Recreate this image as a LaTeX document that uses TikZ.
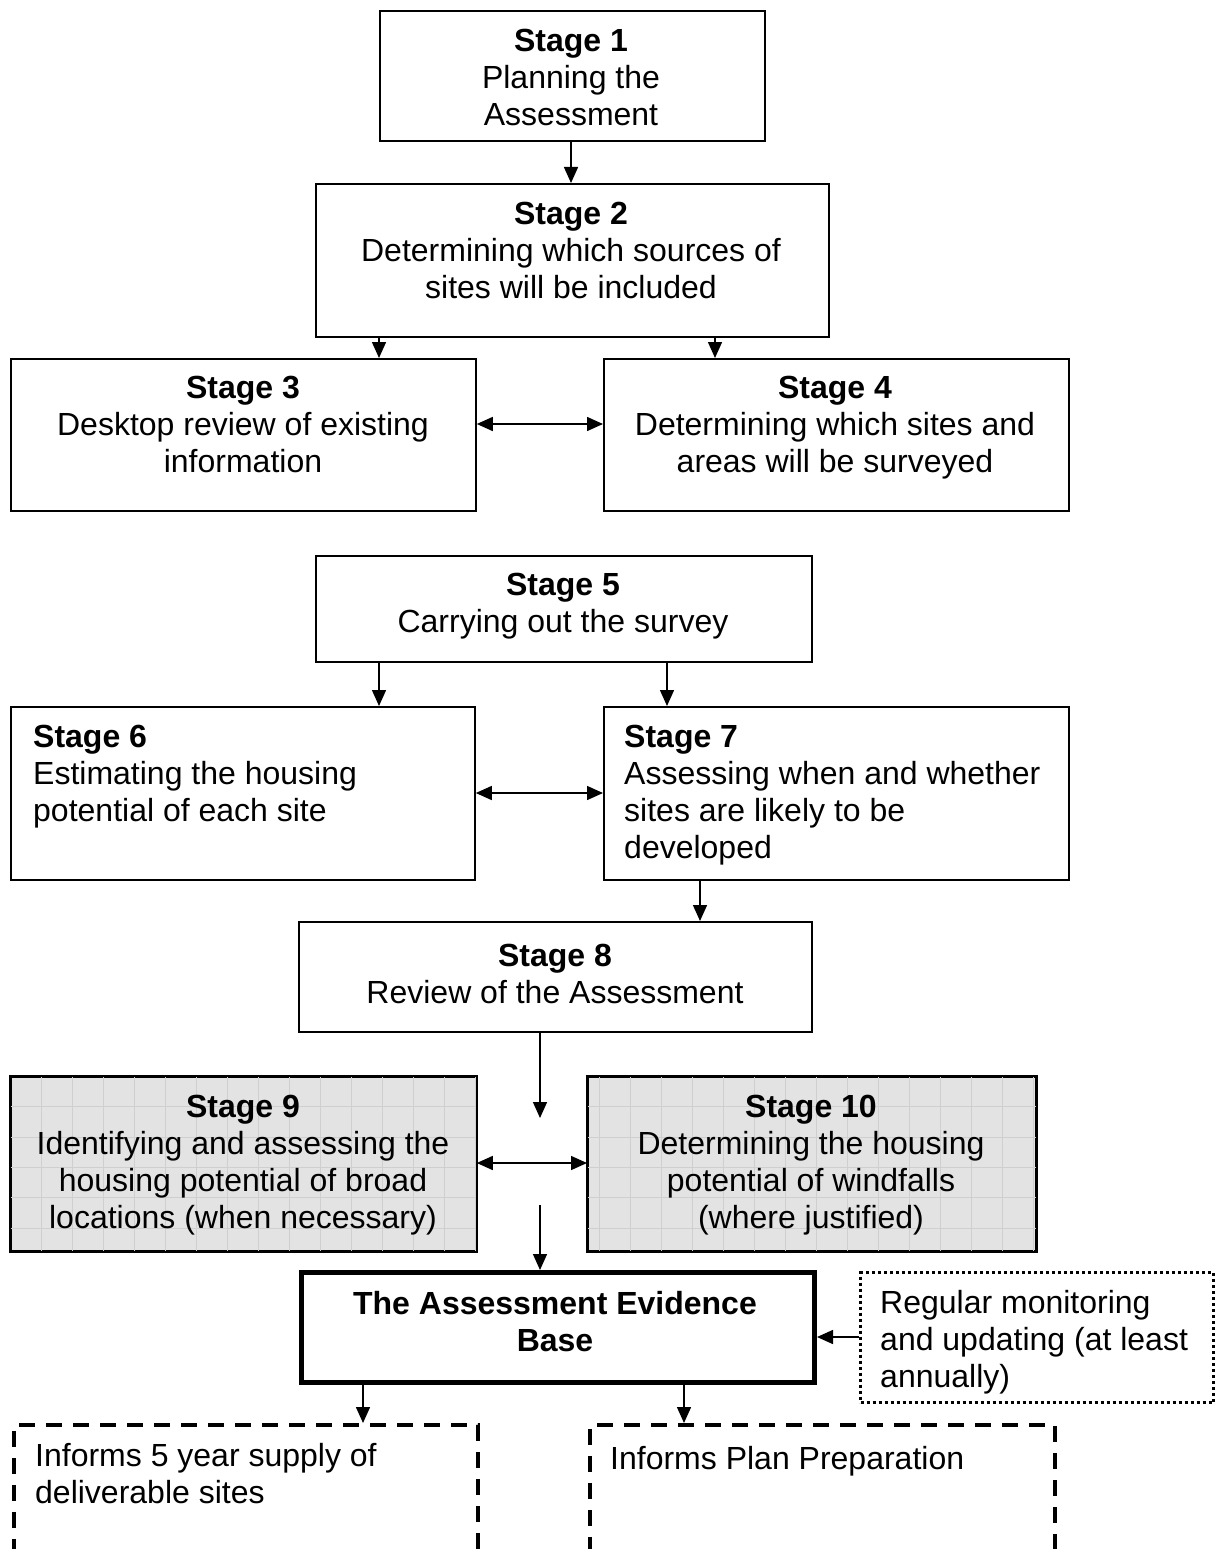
\documentclass[tikz,border=0pt]{standalone}
\usepackage{fontspec}
\setmainfont{Liberation Sans}
\usetikzlibrary{arrows.meta}
\tikzset{
  box/.style={draw, line width=1.8pt, inner sep=0pt, anchor=north west},
  greybox/.style={box, fill=black!11},
  thickbox/.style={box, line width=5pt},
  dottedbox/.style={box, line width=3pt, dash pattern=on 3pt off 3pt},
  dashedbox/.style={box, line width=3.5pt, dash pattern=on 16pt off 11pt},
  txt/.style={inner sep=0pt, align=center, font=\fontsize{32}{37}\selectfont,
    execute at begin node=\strut, execute at end node=\strut},
  ltxt/.style={txt, align=left, anchor=west},
  gridline/.style={draw=black!19, line width=0.8pt},
  tip/.tip={Triangle[length=16pt,width=14pt]},
  arr/.style={line width=1.5pt, -tip},
  darr/.style={line width=1.5pt, tip-tip},
}
\begin{document}
\begin{tikzpicture}[x=1pt,y=-1pt]
\useasboundingbox (0,0) rectangle (1218,1549);
\clip (0,0) rectangle (1218,1549);
\fill[white] (0,0) rectangle (1218,1549);

% x and y positions for connectors
\coordinate (x571) at (571,0);
\coordinate (x379) at (379,0);
\coordinate (x715) at (715,0);
\coordinate (x667) at (667,0);
\coordinate (x700) at (700,0);
\coordinate (x540) at (540,0);
\coordinate (x363) at (363,0);
\coordinate (x684) at (684,0);
\coordinate (y424) at (0,424);
\coordinate (y793) at (0,793);
\coordinate (y1163) at (0,1163);
\coordinate (y1337) at (0,1337);

% boxes
\node[box, minimum width=385pt, minimum height=130pt] (b1) at (379,10) {};
\node[box, minimum width=513pt, minimum height=153pt] (b2) at (315,183) {};
\node[box, minimum width=465pt, minimum height=152pt] (b3) at (10,358) {};
\node[box, minimum width=465pt, minimum height=152pt] (b4) at (603,358) {};
\node[box, minimum width=496pt, minimum height=106pt] (b5) at (315,555) {};
\node[box, minimum width=464pt, minimum height=173pt] (b6) at (10,706) {};
\node[box, minimum width=465pt, minimum height=173pt] (b7) at (603,706) {};
\node[box, minimum width=513pt, minimum height=110pt] (b8) at (298,921) {};
\node[greybox, minimum width=465pt, minimum height=174pt] (b9) at (10,1076) {};
\node[greybox, minimum width=448pt, minimum height=174pt] (b10) at (587,1076) {};

% grid pattern in the grey boxes
\begin{scope}
  \clip (b9.south west) rectangle (b9.north east);
  \begin{scope}[shift={(10.7,1106.7)}]
    \draw[gridline] (-62,-62) grid[xstep=31pt, ystep=30.3pt] (500,200);
  \end{scope}
\end{scope}
\begin{scope}
  \clip (b10.south west) rectangle (b10.north east);
  \begin{scope}[shift={(10.7,1106.7)}]
    \draw[gridline] (500,-62) grid[xstep=31pt, ystep=30.3pt] (1100,200);
  \end{scope}
\end{scope}
\draw[line width=1.8pt] (b9.south west) rectangle (b9.north east);
\draw[line width=1.8pt] (b10.south west) rectangle (b10.north east);

\node[thickbox, minimum width=513pt, minimum height=110pt] (ev) at (299,1270) {};
\node[dottedbox, minimum width=353pt, minimum height=130pt] (reg) at (859,1271) {};
\node[dashedbox, minimum width=464pt, minimum height=200pt] (inf1) at (12,1423) {};
\node[dashedbox, minimum width=465pt, minimum height=200pt] (inf2) at (588,1423) {};

% texts
\node[txt] (t1) at (571,83) {\textbf{Stage 1}\\Planning the\\Assessment};
\node[txt] (t2) at (571,256) {\textbf{Stage 2}\\Determining which sources of\\sites will be included};
\node[txt] (t3) at (243,430) {\textbf{Stage 3}\\Desktop review of existing\\information};
\node[txt] (t4) at (835,430) {\textbf{Stage 4}\\Determining which sites and\\areas will be surveyed};
\node[txt] (t5) at (563,608) {\textbf{Stage 5}\\Carrying out the survey};
\node[ltxt] (t6) at (33,779) {\textbf{Stage 6}\\Estimating the housing\\potential of each site};
\node[ltxt] (t7) at (624,797) {\textbf{Stage 7}\\Assessing when and whether\\sites are likely to be\\developed};
\node[txt] (t8) at (555,979) {\textbf{Stage 8}\\Review of the Assessment};
\node[txt] (t9) at (243,1167) {\textbf{Stage 9}\\Identifying and assessing the\\housing potential of broad\\locations (when necessary)};
\node[txt] (t10) at (811,1167) {\textbf{Stage 10}\\Determining the housing\\potential of windfalls\\(where justified)};
\node[txt] (tev) at (555,1327) {\textbf{The Assessment Evidence}\\\textbf{Base}};
\node[ltxt] (treg) at (880,1344) {Regular monitoring\\and updating (at least\\annually)};
\node[ltxt] (tinf1) at (35,1479) {Informs 5 year supply of\\deliverable sites};
\node[ltxt] (tinf2) at (610,1462) {Informs Plan Preparation};

% connectors
\draw[arr] (b1.south -| x571) -- (b2.north -| x571);
\draw[arr] (b2.south -| x379) -- (b3.north -| x379);
\draw[arr] (b2.south -| x715) -- (b4.north -| x715);
\draw[darr] (b3.east |- y424) -- (b4.west |- y424);
\draw[arr] (b5.south -| x379) -- (b6.north -| x379);
\draw[arr] (b5.south -| x667) -- (b7.north -| x667);
\draw[darr] (b6.east |- y793) -- (b7.west |- y793);
\draw[arr] (b7.south -| x700) -- (b8.north -| x700);
\coordinate (m1) at (540,1118);
\coordinate (m2) at (540,1205);
\draw[arr] (b8.south -| x540) -- (m1);
\draw[darr] (b9.east |- y1163) -- (b10.west |- y1163);
\draw[arr] (m2) -- (ev.north -| x540);
\draw[arr] (reg.west |- y1337) -- (ev.east |- y1337);
\draw[arr] (ev.south -| x363) -- (inf1.north -| x363);
\draw[arr] (ev.south -| x684) -- (inf2.north -| x684);
\end{tikzpicture}
\end{document}
